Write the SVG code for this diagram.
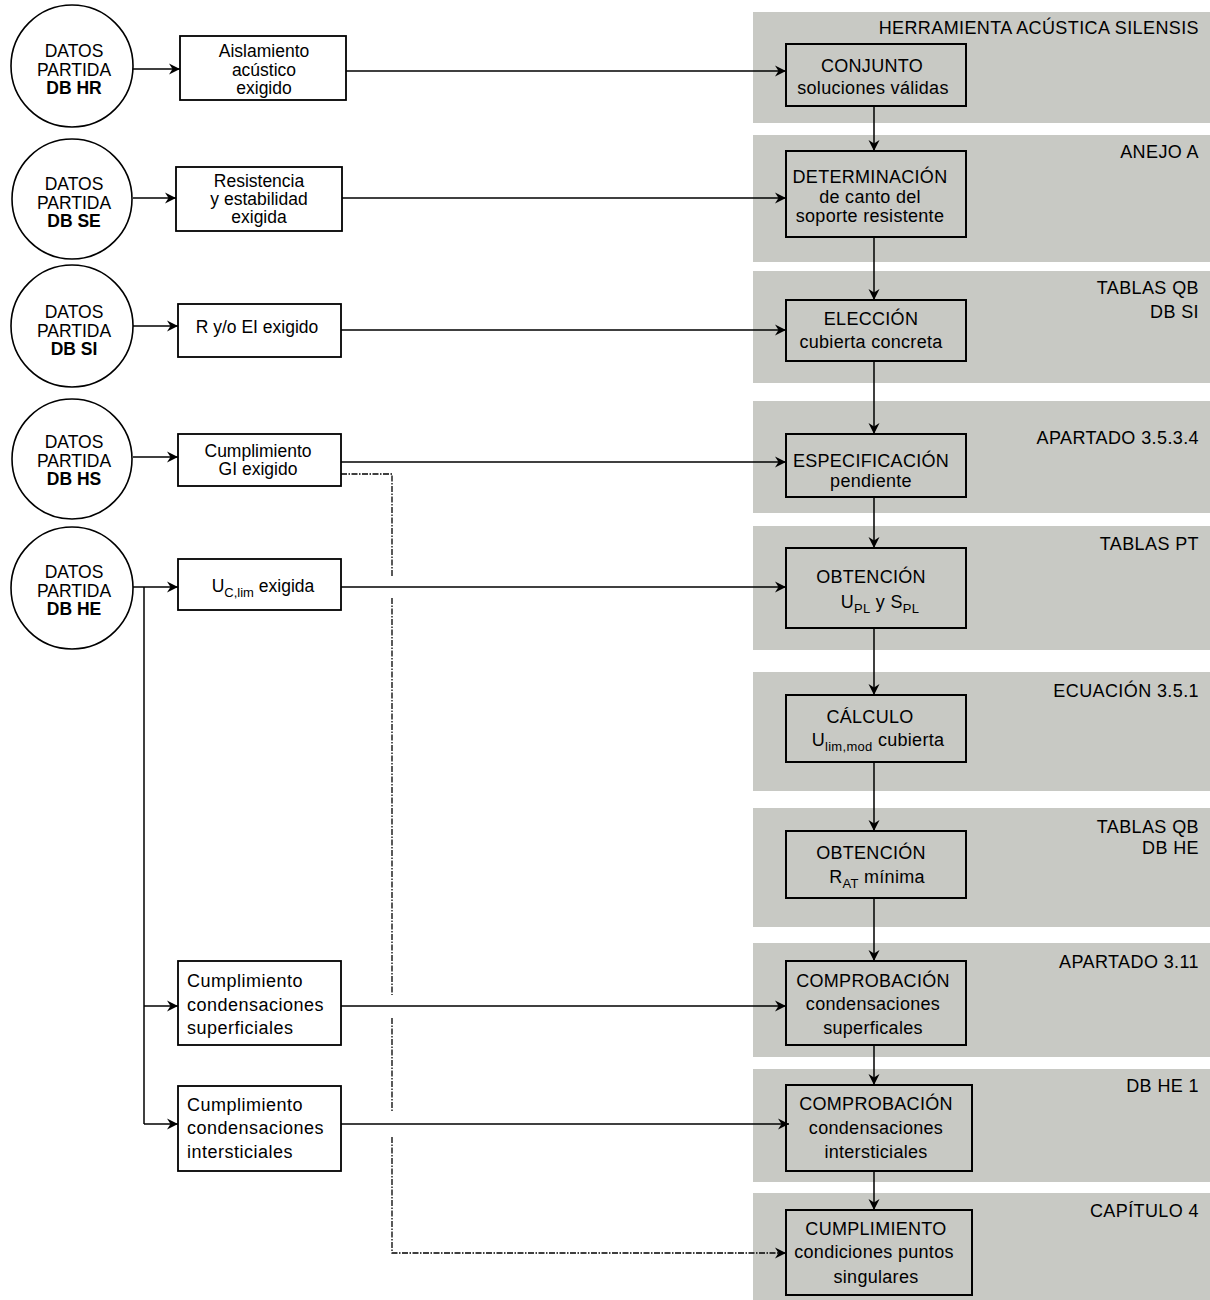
<svg xmlns="http://www.w3.org/2000/svg" width="1210" height="1300" viewBox="0 0 1210 1300">
<style>
.panel{fill:#c8c9c4;stroke:none}
.circ{fill:#fff;stroke:#000;stroke-width:1.6}
.lbox{fill:#fff;stroke:#000;stroke-width:1.8}
.rbox{fill:none;stroke:#000;stroke-width:2}
.t{font-family:"Liberation Sans",Arial,sans-serif;font-size:17.5px;fill:#000;text-anchor:middle}
.tl{font-family:"Liberation Sans",Arial,sans-serif;font-size:18px;letter-spacing:0.5px;fill:#000}
.tr{font-family:"Liberation Sans",Arial,sans-serif;font-size:18px;letter-spacing:0.3px;fill:#000;text-anchor:middle}
.pl{font-family:"Liberation Sans",Arial,sans-serif;font-size:18px;letter-spacing:0.4px;fill:#000;text-anchor:end}
.b{font-weight:bold}
.sub{font-size:13px}
.con{fill:none;stroke:#000;stroke-width:1.5}
.dash{fill:none;stroke:#000;stroke-width:1.3;stroke-dasharray:6 1.5 1.5 1.5}
</style>
<defs>
<marker id="ah" markerUnits="userSpaceOnUse" markerWidth="12" markerHeight="12" refX="11" refY="6" orient="auto">
<path d="M0,0.5 L11,6 L0,11.5 L3.5,6 z" fill="#000"/>
</marker>
</defs>

<g id="panels">
<rect class="panel" x="753" y="12" width="457" height="111"/>
<rect class="panel" x="753" y="135" width="457" height="127"/>
<rect class="panel" x="753" y="271" width="457" height="112"/>
<rect class="panel" x="753" y="401" width="457" height="112"/>
<rect class="panel" x="753" y="526" width="457" height="124"/>
<rect class="panel" x="753" y="672" width="457" height="119"/>
<rect class="panel" x="753" y="808" width="457" height="119"/>
<rect class="panel" x="753" y="943" width="457" height="114"/>
<rect class="panel" x="753" y="1069" width="457" height="113"/>
<rect class="panel" x="753" y="1193" width="457" height="107"/>
<text class="pl" x="1199" y="34">HERRAMIENTA ACÚSTICA SILENSIS</text>
<text class="pl" x="1199" y="158">ANEJO A</text>
<text class="pl" x="1199" y="294">TABLAS QB</text>
<text class="pl" x="1199" y="318">DB SI</text>
<text class="pl" x="1199" y="444">APARTADO 3.5.3.4</text>
<text class="pl" x="1199" y="550">TABLAS PT</text>
<text class="pl" x="1199" y="697">ECUACIÓN 3.5.1</text>
<text class="pl" x="1199" y="833">TABLAS QB</text>
<text class="pl" x="1199" y="854">DB HE</text>
<text class="pl" x="1199" y="968">APARTADO 3.11</text>
<text class="pl" x="1199" y="1092">DB HE 1</text>
<text class="pl" x="1199" y="1217">CAPÍTULO 4</text>
</g>

<g id="connectors">
<line class="con" x1="133" y1="69" x2="180" y2="69" marker-end="url(#ah)"/>
<line class="con" x1="133" y1="198" x2="176" y2="198" marker-end="url(#ah)"/>
<line class="con" x1="133" y1="326" x2="178" y2="326" marker-end="url(#ah)"/>
<line class="con" x1="133" y1="457" x2="178" y2="457" marker-end="url(#ah)"/>
<line class="con" x1="133" y1="587" x2="178" y2="587" marker-end="url(#ah)"/>
<path class="con" d="M144,587 V1124"/>
<line class="con" x1="144" y1="1006" x2="178" y2="1006" marker-end="url(#ah)"/>
<line class="con" x1="144" y1="1124" x2="178" y2="1124" marker-end="url(#ah)"/>

<line class="con" x1="346" y1="71" x2="786" y2="71" marker-end="url(#ah)"/>
<line class="con" x1="342" y1="198" x2="786" y2="198" marker-end="url(#ah)"/>
<line class="con" x1="341" y1="330" x2="786" y2="330" marker-end="url(#ah)"/>
<line class="con" x1="341" y1="462" x2="786" y2="462" marker-end="url(#ah)"/>
<line class="con" x1="341" y1="587" x2="786" y2="587" marker-end="url(#ah)"/>
<line class="con" x1="341" y1="1006" x2="786" y2="1006" marker-end="url(#ah)"/>
<line class="con" x1="341" y1="1124" x2="789" y2="1124" marker-end="url(#ah)"/>

<path class="dash" d="M341,474 H392 V577"/>
<path class="dash" d="M392,598 V995"/>
<path class="dash" d="M392,1018 V1112"/>
<path class="dash" d="M392,1137 V1253 H786" marker-end="url(#ah)"/>

<line class="con" x1="874" y1="106" x2="874" y2="151" marker-end="url(#ah)"/>
<line class="con" x1="874" y1="237" x2="874" y2="300" marker-end="url(#ah)"/>
<line class="con" x1="874" y1="361" x2="874" y2="434" marker-end="url(#ah)"/>
<line class="con" x1="874" y1="497" x2="874" y2="548" marker-end="url(#ah)"/>
<line class="con" x1="874" y1="628" x2="874" y2="695" marker-end="url(#ah)"/>
<line class="con" x1="874" y1="762" x2="874" y2="831" marker-end="url(#ah)"/>
<line class="con" x1="874" y1="898" x2="874" y2="961" marker-end="url(#ah)"/>
<line class="con" x1="874" y1="1045" x2="874" y2="1085" marker-end="url(#ah)"/>
<line class="con" x1="874" y1="1171" x2="874" y2="1210" marker-end="url(#ah)"/>
</g>

<g id="n-hr">
<circle class="circ" cx="72" cy="66" r="61"/>
<text class="t" x="74" y="57">DATOS</text>
<text class="t" x="74" y="76">PARTIDA</text>
<text class="t b" x="74" y="94">DB HR</text>
</g>
<g id="n-se">
<circle class="circ" cx="72" cy="199" r="60"/>
<text class="t" x="74" y="190">DATOS</text>
<text class="t" x="74" y="209">PARTIDA</text>
<text class="t b" x="74" y="227">DB SE</text>
</g>
<g id="n-si">
<circle class="circ" cx="72" cy="326" r="61"/>
<text class="t" x="74" y="318">DATOS</text>
<text class="t" x="74" y="337">PARTIDA</text>
<text class="t b" x="74" y="355">DB SI</text>
</g>
<g id="n-hs">
<circle class="circ" cx="72" cy="459" r="60"/>
<text class="t" x="74" y="448">DATOS</text>
<text class="t" x="74" y="467">PARTIDA</text>
<text class="t b" x="74" y="485">DB HS</text>
</g>
<g id="n-he">
<circle class="circ" cx="72" cy="588" r="61"/>
<text class="t" x="74" y="578">DATOS</text>
<text class="t" x="74" y="597">PARTIDA</text>
<text class="t b" x="74" y="615">DB HE</text>
</g>

<g id="b-aislamiento">
<rect class="lbox" x="180" y="36" width="166" height="64"/>
<text class="t" x="264" y="57">Aislamiento</text>
<text class="t" x="264" y="76">acústico</text>
<text class="t" x="264" y="94">exigido</text>
</g>
<g id="b-resistencia">
<rect class="lbox" x="176" y="167" width="166" height="64"/>
<text class="t" x="259" y="187">Resistencia</text>
<text class="t" x="259" y="205">y estabilidad</text>
<text class="t" x="259" y="223">exigida</text>
</g>
<g id="b-rei">
<rect class="lbox" x="178" y="304" width="163" height="53"/>
<text class="t" x="257" y="333">R y/o EI exigido</text>
</g>
<g id="b-gi">
<rect class="lbox" x="178" y="434" width="163" height="52"/>
<text class="t" x="258" y="457">Cumplimiento</text>
<text class="t" x="258" y="475">GI exigido</text>
</g>
<g id="b-uclim">
<rect class="lbox" x="178" y="559" width="163" height="51"/>
<text class="t" x="263" y="592">U<tspan class="sub" dy="5">C,lim</tspan><tspan dy="-5"> exigida</tspan></text>
</g>
<g id="b-csup">
<rect class="lbox" x="178" y="961" width="163" height="84"/>
<text class="tl" x="187" y="987">Cumplimiento</text>
<text class="tl" x="187" y="1011">condensaciones</text>
<text class="tl" x="187" y="1034">superficiales</text>
</g>
<g id="b-cint">
<rect class="lbox" x="178" y="1086" width="163" height="85"/>
<text class="tl" x="187" y="1111">Cumplimiento</text>
<text class="tl" x="187" y="1134">condensaciones</text>
<text class="tl" x="187" y="1158">intersticiales</text>
</g>

<g id="r-conjunto">
<rect class="rbox" x="786" y="44" width="180" height="62"/>
<text class="tr" x="872" y="72">CONJUNTO</text>
<text class="tr" x="873" y="94">soluciones válidas</text>
</g>
<g id="r-determinacion">
<rect class="rbox" x="786" y="151" width="180" height="86"/>
<text class="tr" x="870" y="183">DETERMINACIÓN</text>
<text class="tr" x="870" y="203">de canto del</text>
<text class="tr" x="870" y="222">soporte resistente</text>
</g>
<g id="r-eleccion">
<rect class="rbox" x="786" y="300" width="180" height="61"/>
<text class="tr" x="871" y="325">ELECCIÓN</text>
<text class="tr" x="871" y="348">cubierta concreta</text>
</g>
<g id="r-especificacion">
<rect class="rbox" x="786" y="434" width="180" height="63"/>
<text class="tr" x="871" y="467">ESPECIFICACIÓN</text>
<text class="tr" x="871" y="487">pendiente</text>
</g>
<g id="r-obtencion-upl">
<rect class="rbox" x="786" y="548" width="180" height="80"/>
<text class="tr" x="871" y="583">OBTENCIÓN</text>
<text class="tr" x="880" y="608">U<tspan class="sub" dy="5">PL</tspan><tspan dy="-5"> y S</tspan><tspan class="sub" dy="5">PL</tspan></text>
</g>
<g id="r-calculo">
<rect class="rbox" x="786" y="695" width="180" height="67"/>
<text class="tr" x="870" y="723">CÁLCULO</text>
<text class="tr" x="878" y="746">U<tspan class="sub" dy="5">lim,mod</tspan><tspan dy="-5">  cubierta</tspan></text>
</g>
<g id="r-obtencion-rat">
<rect class="rbox" x="786" y="831" width="180" height="67"/>
<text class="tr" x="871" y="859">OBTENCIÓN</text>
<text class="tr" x="877" y="883">R<tspan class="sub" dy="5">AT</tspan><tspan dy="-5">  mínima</tspan></text>
</g>
<g id="r-comprobacion-sup">
<rect class="rbox" x="786" y="961" width="180" height="84"/>
<text class="tr" x="873" y="987">COMPROBACIÓN</text>
<text class="tr" x="873" y="1010">condensaciones</text>
<text class="tr" x="873" y="1034">superficales</text>
</g>
<g id="r-comprobacion-int">
<rect class="rbox" x="786" y="1085" width="186" height="86"/>
<text class="tr" x="876" y="1110">COMPROBACIÓN</text>
<text class="tr" x="876" y="1134">condensaciones</text>
<text class="tr" x="876" y="1158">intersticiales</text>
</g>
<g id="r-cumplimiento">
<rect class="rbox" x="786" y="1210" width="186" height="85"/>
<text class="tr" x="876" y="1235">CUMPLIMIENTO</text>
<text class="tr" x="874" y="1258">condiciones puntos</text>
<text class="tr" x="876" y="1283">singulares</text>
</g>
</svg>
